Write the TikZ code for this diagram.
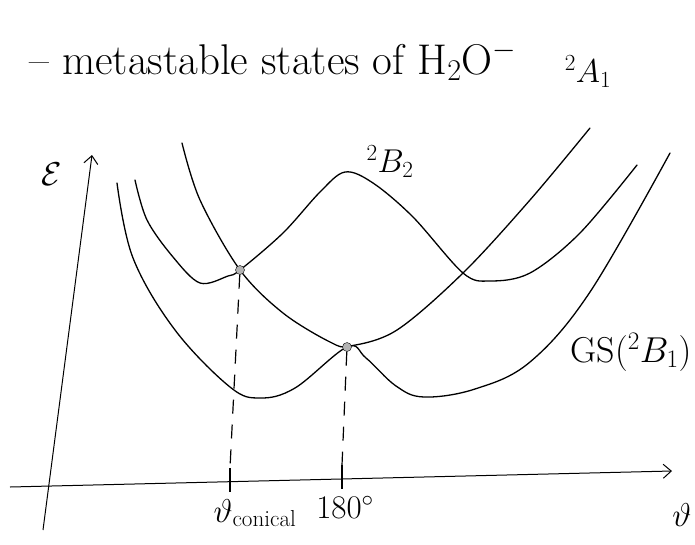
\RequirePackage{fix-cm}
\documentclass[tikz,border=0pt]{standalone}
\usepackage{amsmath}
\usepackage{fontspec}
\usepackage{tikz}
\usetikzlibrary{arrows.meta, calc}

\begin{document}
\begin{tikzpicture}[x=1pt, y=-1pt,
    curve/.style={line width=1.3pt, line cap=round},
    ax/.style={line width=1pt, -{Straight Barb[length=8pt, width=14pt]}},
    guide/.style={line width=1.2pt, dash pattern=on 14pt off 11pt},
    tickmark/.style={line width=1.8pt},
    lbl/.style={font=\fontsize{33}{38}\selectfont},
    dot/.style={circle, draw=black, fill=gray!60, inner sep=0pt, minimum size=9pt}]

\useasboundingbox (0,0) rectangle (695,544);

% Title
\node[font=\fontsize{43}{48}\selectfont, anchor=base west] (title) at (26,74) {-- metastable states of H$_2$O$^-$};

% Axes
\coordinate (yb) at (43,530);
\coordinate (yt) at (92,155);
\coordinate (xl) at (10,487);
\coordinate (xr) at (672,471);
\draw[ax] (yb) -- (yt);
\draw[ax] (xl) -- (xr);
\node[lbl] (en) at (52,174) {$\mathcal{E}$};
\node[lbl, anchor=base east] (th) at (695,526) {$\vartheta$};

% Potential curves
\draw[curve] plot[smooth, tension=0.6] coordinates {(117,183) (133,258) (175,330) (230,387) (260,398) (295,388) (347,347)
  (366,358) (396,386) (424,397) (475,389) (530,362) (590,292) (670,153)};
\draw[curve] plot[smooth, tension=0.55] coordinates {(135,180) (147,220) (173,257) (200,283) (228,276) (240,270) (283,233) (320,192) (345,172)
  (373,183) (413,217) (463,273) (490,281) (530,273) (580,233) (637,165)};
\draw[curve] plot[smooth, tension=0.55] coordinates {(182,143) (200,200) (240,270) (283,313) (330,342) (350,346) (397,330) (463,273) (530,200) (590,128)};

% Crossings
\node[dot] (cx) at (240,270) {};
\node[dot] (gx) at (347,347) {};

% Guides and ticks
\coordinate (t1) at (230,482);
\coordinate (t2) at (342,479);
\draw[guide] (cx) -- ($(t1)+(0,-14)$);
\draw[guide] (gx) -- ($(t2)+(0,-14)$);
\draw[tickmark] ($(t1)+(0,-14)$) -- ($(t1)+(0,10)$);
\draw[tickmark] ($(t2)+(0,-14)$) -- ($(t2)+(0,10)$);
\node[lbl, anchor=base west] (tc) at (210,522) {$\vartheta_{\text{conical}}$};
\node[lbl, anchor=base] (tl) at (345,518) {$180^\circ$};

% State labels
\node[lbl] (a1) at (588,72) {${}^2A_1$};
\node[lbl] (b2) at (390,162) {${}^2B_2$};
\node[lbl, font=\fontsize{36}{40}\selectfont, anchor=east] (gs) at (695,352) {GS$({}^2B_1)$};

\end{tikzpicture}
\end{document}
